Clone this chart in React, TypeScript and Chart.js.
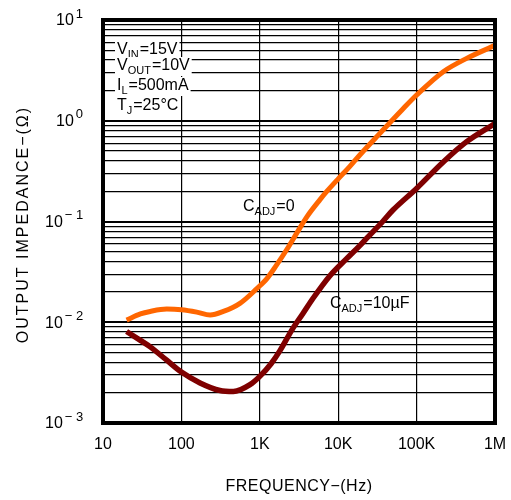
import React, { useEffect, useRef } from "react";
import { Chart, registerables } from "chart.js";

Chart.register(...registerables);

// ---- data ----
const freqAdj0 = [20, 30, 40, 65, 100, 157, 232, 343, 558, 912, 1240, 1600, 2220, 3000, 4000, 5860, 7200, 10000, 14000, 19000, 34000, 65000, 100000, 219000, 435000, 1000000];
const zAdj0 = [0.0105, 0.0121, 0.0128, 0.0135, 0.0133, 0.0126, 0.0118, 0.0128, 0.0154, 0.0215, 0.0273, 0.036, 0.053, 0.078, 0.112, 0.165, 0.2, 0.265, 0.35, 0.46, 0.75, 1.28, 1.8, 3.07, 4.16, 5.6];

const freqAdj10 = [20, 30, 40, 65, 100, 173, 310, 460, 750, 1000, 1400, 1800, 2640, 3500, 4780, 7850, 12900, 19000, 23000, 37000, 50000, 100000, 219000, 435000, 1000000];
const zAdj10 = [0.0081, 0.0066, 0.0057, 0.0042, 0.0032, 0.0025, 0.0021, 0.00205, 0.0024, 0.0029, 0.0039, 0.0052, 0.0087, 0.012, 0.0173, 0.029, 0.043, 0.058, 0.068, 0.1, 0.13, 0.213, 0.39, 0.62, 0.94];

const xTickValues = [10, 100, 1000, 10000, 100000, 1000000];
const xTickLabels = ["10", "100", "1K", "10K", "100K", "1M"];
const yDecades = [0.001, 0.01, 0.1, 1, 10];
const yExponents = ["\u2212 3", "\u2212 2", "\u2212 1", "0", "1"];
const yMinorSteps = [1, 2, 3, 4, 5, 6, 7, 8, 9];

const condMain = ["V", "V", "I", "T"];
const condSub = ["IN", "OUT", "L", "J"];
const condRest = ["=15V", "=10V", "=500mA", "=25\u00B0C"];

const seriesNames = ["C_ADJ = 0", "C_ADJ = 10\u00B5F"];
const seriesLabelMain = ["C", "C"];
const seriesLabelSub = ["ADJ", "ADJ"];
const seriesLabelRest = ["=0", "=10\u00B5F"];
const seriesLabelAnchorX = [611, 7850];
const seriesLabelAnchorY = [0.126, 0.0138];

const xTitle = "FREQUENCY\u2212(Hz)";
const yTitle = "OUTPUT IMPEDANCE\u2212(\u03A9)";

const ORANGE = "#ff6600";
const DARKRED = "#7f0000";
const FONT = '"Liberation Sans", Arial, sans-serif';

function drawParts(ctx: CanvasRenderingContext2D, x: number, y: number, main: string, sub: string, rest: string, measureOnly = false) {
  let cx = x;
  const parts: [string, number, number][] = [
    [main, 16, 0],
    [sub, 11, 4],
    [rest, 16, 0],
  ];
  for (const [t, s, dy] of parts) {
    ctx.font = `${s}px ${FONT}`;
    if (!measureOnly) ctx.fillText(t, cx, y + dy);
    cx += ctx.measureText(t).width + (s === 11 ? 1 : 0);
  }
  return cx - x;
}

const overlayPlugin = {
  id: "overlay",
  beforeDatasetsDraw(chart: any) {
    const ctx: CanvasRenderingContext2D = chart.ctx;
    const { left, top } = chart.chartArea;
    const xs = chart.scales.x;
    const ys = chart.scales.y;
    ctx.save();
    ctx.textBaseline = "alphabetic";
    ctx.textAlign = "left";
    const baselines = [33.5, 50, 70, 90];
    for (let i = 0; i < condMain.length; i++) {
      const bx = left + 14;
      const by = top + baselines[i];
      const w = drawParts(ctx, bx, by, condMain[i], condSub[i], condRest[i], true);
      ctx.fillStyle = "#fff";
      ctx.fillRect(bx - 2, by - 13, w + 4, 19);
      ctx.fillStyle = "#000";
      drawParts(ctx, bx, by, condMain[i], condSub[i], condRest[i]);
    }
    for (let i = 0; i < seriesLabelMain.length; i++) {
      const bx = xs.getPixelForValue(seriesLabelAnchorX[i]);
      const by = ys.getPixelForValue(seriesLabelAnchorY[i]);
      ctx.fillStyle = "#000";
      drawParts(ctx, bx, by, seriesLabelMain[i], seriesLabelSub[i], seriesLabelRest[i]);
    }
    ctx.restore();
  },
  afterDraw(chart: any) {
    const ctx: CanvasRenderingContext2D = chart.ctx;
    const { left, right, top, bottom } = chart.chartArea;
    const xs = chart.scales.x;
    const ys = chart.scales.y;
    ctx.save();
    // frame
    ctx.strokeStyle = "#000";
    ctx.lineWidth = 4;
    ctx.strokeRect(left, top, right - left, bottom - top);

    ctx.fillStyle = "#000";
    // x tick labels
    ctx.font = `16px ${FONT}`;
    ctx.textAlign = "center";
    ctx.textBaseline = "middle";
    xTickValues.forEach((v, i) => {
      ctx.fillText(xTickLabels[i], xs.getPixelForValue(v), bottom + 22);
    });
    // y tick labels with superscripts
    yDecades.forEach((v, i) => {
      const y = ys.getPixelForValue(v);
      const exp = yExponents[i];
      const neg = exp.startsWith("\u2212");
      const x0 = neg ? left - 58 : left - 47;
      ctx.textAlign = "left";
      ctx.textBaseline = "middle";
      ctx.font = `16px ${FONT}`;
      ctx.fillText("10", x0, y + 1);
      const w10 = ctx.measureText("10").width;
      ctx.font = `13px ${FONT}`;
      ctx.fillText(exp, x0 + w10 + 2, y - 6);
    });
    // axis titles
    ctx.font = `16px ${FONT}`;
    (ctx as any).letterSpacing = "0.5px";
    ctx.textAlign = "center";
    ctx.textBaseline = "middle";
    ctx.fillText(xTitle, (left + right) / 2, bottom + 64);
    (ctx as any).letterSpacing = "2px";
    ctx.translate(left - 79, (top + bottom) / 2 + 3);
    ctx.rotate(-Math.PI / 2);
    ctx.fillText(yTitle, 0, 0);
    ctx.restore();
  },
};

export default function App() {
  const ref = useRef<HTMLCanvasElement>(null);
  useEffect(() => {
    document.body.style.margin = "0";
    const canvas = ref.current!;
    const yGrid: number[] = [];
    yDecades.forEach((d) => {
      yMinorSteps.forEach((s) => {
        const v = d * s;
        if (v <= 10 + 1e-9) yGrid.push(v);
      });
    });
    const chart = new Chart(canvas, {
      type: "line",
      data: {
        datasets: [
          {
            label: seriesNames[0],
            data: freqAdj0.map((f, i) => ({ x: f, y: zAdj0[i] })),
            borderColor: ORANGE,
            borderWidth: 5,
            pointRadius: 0,
            cubicInterpolationMode: "monotone",
            fill: false,
          },
          {
            label: seriesNames[1],
            data: freqAdj10.map((f, i) => ({ x: f, y: zAdj10[i] })),
            borderColor: DARKRED,
            borderWidth: 5.5,
            pointRadius: 0,
            cubicInterpolationMode: "monotone",
            fill: false,
          },
        ],
      },
      options: {
        animation: false,
        responsive: false,
        events: [],
        layout: { padding: { left: 0, right: 16, top: 20, bottom: 0 } },
        plugins: { legend: { display: false }, tooltip: { enabled: false } },
        scales: {
          x: {
            type: "logarithmic",
            min: 10,
            max: 1000000,
            border: { display: false },
            grid: { color: "#000", lineWidth: 1.2, drawTicks: false },
            ticks: { display: false },
            afterBuildTicks: (s: any) => {
              s.ticks = xTickValues.map((v) => ({ value: v }));
            },
            afterFit: (s: any) => {
              s.height = 77;
            },
          },
          y: {
            type: "logarithmic",
            min: 0.001,
            max: 10,
            border: { display: false },
            grid: {
              color: "#000",
              drawTicks: false,
              lineWidth: (c: any) => {
                const v = c.tick ? c.tick.value : 0;
                const l = Math.log10(v);
                return Math.abs(l - Math.round(l)) < 1e-6 ? 2 : 1.2;
              },
            },
            ticks: { display: false },
            afterBuildTicks: (s: any) => {
              s.ticks = yGrid.map((v) => ({ value: v }));
            },
            afterFit: (s: any) => {
              s.width = 103;
            },
          },
        },
      } as any,
      plugins: [overlayPlugin],
    });
    return () => chart.destroy();
  }, []);
  return (
    <div style={{ width: 511, height: 500, background: "#fff" }}>
      <canvas ref={ref} width={511} height={500} style={{ display: "block" }} />
    </div>
  );
}
